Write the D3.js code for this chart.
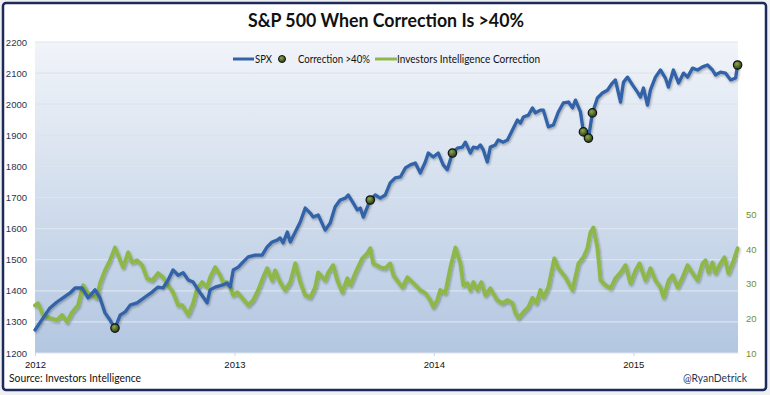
<!DOCTYPE html>
<html>
<head>
<meta charset="utf-8">
<script src="https://cdn.jsdelivr.net/npm/d3@7"></script>
<style>
  html, body { margin: 0; padding: 0; background: #eef0f3; }
  svg { display: block; font-family: Lato, "Open Sans", sans-serif; }
</style>
</head>
<body>
<svg width="770" height="395"></svg>
<script>
// SPX weekly closes, [decimal year, value]
var spx = [
  [2012.000,1274],[2012.040,1312],[2012.075,1345],[2012.110,1364],[2012.140,1377],[2012.176,1393],
  [2012.201,1409],[2012.236,1409],[2012.266,1377],[2012.301,1403],[2012.326,1377],[2012.351,1329],
  [2012.376,1306],[2012.401,1280],[2012.427,1322],[2012.452,1332],[2012.477,1354],[2012.512,1361],
  [2012.552,1380],[2012.587,1396],[2012.617,1412],[2012.642,1409],[2012.667,1434],[2012.692,1467],
  [2012.718,1450],[2012.743,1458],[2012.768,1435],[2012.793,1428],[2012.818,1403],[2012.843,1380],
  [2012.863,1361],[2012.878,1403],[2012.903,1412],[2012.938,1418],[2012.963,1425],[2012.979,1412],
  [2012.994,1467],[2013.019,1476],[2013.044,1493],[2013.069,1509],[2013.104,1515],[2013.139,1515],
  [2013.164,1541],[2013.189,1557],[2013.214,1563],[2013.229,1570],[2013.244,1554],[2013.265,1589],
  [2013.280,1557],[2013.305,1589],[2013.330,1621],[2013.355,1666],[2013.380,1650],[2013.395,1637],
  [2013.420,1644],[2013.455,1595],[2013.480,1618],[2013.505,1670],[2013.530,1692],[2013.556,1698],
  [2013.571,1708],[2013.596,1682],[2013.616,1660],[2013.631,1666],[2013.646,1637],[2013.681,1692],
  [2013.706,1708],[2013.731,1698],[2013.756,1708],[2013.781,1747],[2013.806,1763],[2013.832,1766],
  [2013.857,1795],[2013.882,1805],[2013.907,1811],[2013.932,1779],[2013.957,1814],[2013.972,1843],
  [2013.997,1830],[2014.022,1843],[2014.047,1805],[2014.067,1789],[2014.093,1843],[2014.118,1859],
  [2014.143,1862],[2014.158,1878],[2014.183,1843],[2014.198,1862],[2014.218,1859],[2014.233,1869],
  [2014.248,1853],[2014.268,1814],[2014.283,1862],[2014.308,1869],[2014.323,1885],[2014.348,1878],
  [2014.369,1885],[2014.394,1917],[2014.419,1949],[2014.434,1939],[2014.449,1959],[2014.474,1965],
  [2014.494,1988],[2014.509,1972],[2014.534,1981],[2014.549,1981],[2014.574,1927],[2014.599,1933],
  [2014.624,1975],[2014.649,2004],[2014.675,2007],[2014.695,1988],[2014.710,2013],[2014.735,1975],
  [2014.750,1911],[2014.775,1891],[2014.795,1972],[2014.820,2020],[2014.845,2036],[2014.870,2045],
  [2014.895,2068],[2014.910,2078],[2014.936,2007],[2014.951,2071],[2014.971,2087],[2014.996,2062],
  [2015.021,2039],[2015.036,2023],[2015.051,2052],[2015.071,1997],[2015.086,2046],[2015.111,2087],
  [2015.136,2110],[2015.161,2084],[2015.176,2055],[2015.201,2110],[2015.227,2068],[2015.252,2100],
  [2015.272,2087],[2015.297,2116],[2015.322,2110],[2015.347,2120],[2015.372,2126],[2015.397,2110],
  [2015.412,2094],[2015.437,2103],[2015.462,2100],[2015.488,2078],[2015.513,2084],[2015.523,2126]
];

// weeks where the II correction reading topped 40%
var correctionDots = [
  [2012.401,1280],[2013.681,1692],[2014.093,1843],[2014.750,1911],
  [2014.775,1891],[2014.795,1972],[2015.523,2126]
];

// Investors Intelligence correction %, [decimal year, value]
var iiCorrection = [
  [2012.000,23.8],[2012.015,24.4],[2012.040,21.0],[2012.075,20.1],[2012.110,19.5],[2012.135,21.0],
  [2012.161,19.0],[2012.186,21.8],[2012.216,23.8],[2012.241,29.6],[2012.266,27.3],[2012.291,26.7],
  [2012.311,25.9],[2012.326,30.2],[2012.351,33.9],[2012.376,36.8],[2012.401,40.5],[2012.417,38.2],
  [2012.442,34.8],[2012.467,39.1],[2012.487,36.2],[2012.512,36.8],[2012.537,35.4],[2012.562,31.6],
  [2012.587,31.0],[2012.617,33.1],[2012.642,31.9],[2012.667,29.6],[2012.692,27.6],[2012.718,23.8],
  [2012.738,23.8],[2012.768,21.0],[2012.793,24.4],[2012.813,28.7],[2012.838,30.5],[2012.863,29.0],
  [2012.878,31.9],[2012.903,34.8],[2012.928,32.5],[2012.943,30.5],[2012.963,30.5],[2012.979,29.0],
  [2012.994,26.7],[2013.014,27.6],[2013.039,25.9],[2013.069,23.8],[2013.094,25.3],[2013.119,28.2],
  [2013.144,31.9],[2013.164,34.5],[2013.189,31.0],[2013.204,33.9],[2013.229,30.5],[2013.254,28.2],
  [2013.280,30.5],[2013.305,35.9],[2013.330,30.5],[2013.355,26.7],[2013.380,26.1],[2013.405,29.0],
  [2013.420,33.3],[2013.455,31.0],[2013.470,33.3],[2013.495,35.4],[2013.516,31.0],[2013.541,27.6],
  [2013.566,31.6],[2013.581,29.6],[2013.606,33.1],[2013.641,37.4],[2013.666,38.8],[2013.681,40.3],
  [2013.696,35.9],[2013.731,34.8],[2013.756,34.5],[2013.781,35.9],[2013.797,32.5],[2013.822,30.5],
  [2013.842,29.0],[2013.867,31.9],[2013.897,30.2],[2013.932,28.2],[2013.957,27.3],[2013.982,25.3],
  [2013.997,23.3],[2014.017,25.3],[2014.032,28.2],[2014.057,27.3],[2014.083,34.8],[2014.108,40.5],
  [2014.133,35.9],[2014.148,29.6],[2014.168,30.2],[2014.183,28.2],[2014.198,30.5],[2014.218,28.2],
  [2014.238,30.5],[2014.258,26.7],[2014.283,28.7],[2014.318,25.3],[2014.343,24.4],[2014.369,25.3],
  [2014.394,24.4],[2014.409,21.5],[2014.424,20.1],[2014.449,21.8],[2014.474,23.3],[2014.494,25.9],
  [2014.514,24.4],[2014.534,28.2],[2014.549,26.1],[2014.574,29.0],[2014.604,37.4],[2014.624,34.5],
  [2014.660,31.9],[2014.695,28.2],[2014.725,35.9],[2014.750,37.7],[2014.770,40.3],[2014.785,44.9],
  [2014.800,46.3],[2014.820,40.5],[2014.836,31.0],[2014.861,29.6],[2014.886,28.7],[2014.910,31.6],
  [2014.936,33.3],[2014.961,35.4],[2014.986,30.2],[2015.011,33.9],[2015.031,35.9],[2015.061,31.0],
  [2015.086,34.5],[2015.111,31.0],[2015.136,29.0],[2015.152,26.1],[2015.177,31.0],[2015.197,32.5],
  [2015.222,29.0],[2015.247,31.9],[2015.272,35.4],[2015.297,33.1],[2015.322,31.0],[2015.347,35.9],
  [2015.362,36.8],[2015.377,33.3],[2015.397,36.2],[2015.412,33.1],[2015.437,35.9],[2015.457,37.7],
  [2015.477,33.1],[2015.503,36.8],[2015.523,40.3]
];

var yearTicks = [2012, 2013, 2014, 2015];
var spxTicks = [1200, 1300, 1400, 1500, 1600, 1700, 1800, 1900, 2000, 2100, 2200];
var corrTicks = [10, 20, 30, 40, 50];

var blue = "#3262a8", green = "#8db84a", navy = "#1c2b5a";

var svg = d3.select("svg");
var defs = svg.append("defs");

// plot area in pixels
var plot = {left: 35, right: 738, top: 42, bottom: 353};

var x = d3.scaleLinear().domain([2012, 2015.525]).range([plot.left, plot.right]);
var y = d3.scaleLinear().domain([1200, 2200]).range([plot.bottom, plot.top]);
var y2 = d3.scaleLinear().domain([10, 100]).range([plot.bottom, plot.top]);

//background gradient of the plot area
var grad = defs.append("linearGradient").attr("id", "bg").attr("x1", 0).attr("y1", 0).attr("x2", 0).attr("y2", 1);
grad.append("stop").attr("offset", "0%").attr("stop-color", "#f1f4f9");
grad.append("stop").attr("offset", "100%").attr("stop-color", "#b3c7e1");

var dotGrad = defs.append("radialGradient").attr("id", "dot").attr("cx", "40%").attr("cy", "35%").attr("r", "65%");
dotGrad.append("stop").attr("offset", "0%").attr("stop-color", "#8aab4c");
dotGrad.append("stop").attr("offset", "100%").attr("stop-color", "#2c3a16");

var shadow = defs.append("filter").attr("id", "shadow").attr("x", "-5%").attr("y", "-5%").attr("width", "110%").attr("height", "120%");
shadow.append("feDropShadow").attr("dx", 1).attr("dy", 1.5).attr("stdDeviation", 1)
  .attr("flood-color", "#000").attr("flood-opacity", 0.3);

//outer frame
svg.append("rect")
  .attr("x", 3).attr("y", 3).attr("width", 763).attr("height", 387).attr("rx", 3)
  .attr("fill", "#fff").attr("stroke", navy).attr("stroke-width", 2.5);

svg.append("rect")
  .attr("x", plot.left).attr("y", plot.top)
  .attr("width", plot.right - plot.left).attr("height", plot.bottom - plot.top)
  .attr("fill", "url(#bg)");

//horizontal gridlines
svg.append("g").selectAll("line")
  .data(spxTicks)
  .enter().append("line")
  .attr("x1", plot.left).attr("x2", plot.right)
  .attr("y1", function(d){ return y(d); }).attr("y2", function(d){ return y(d); })
  .attr("stroke", "#dde4ee").attr("stroke-width", 1.2);

//left axis
var leftAxis = svg.append("g")
  .attr("transform", "translate(" + (plot.left - 8) + ",0)")
  .call(d3.axisLeft(y).tickValues(spxTicks).tickSize(0).tickPadding(0).tickFormat(d3.format("d")));
leftAxis.select(".domain").remove();
leftAxis.selectAll("text").attr("fill", "#1f3556").attr("font-size", 9.5);

//right axis
var rightAxis = svg.append("g")
  .attr("transform", "translate(" + (plot.right + 8) + ",0)")
  .call(d3.axisRight(y2).tickValues(corrTicks).tickSize(0).tickPadding(0));
rightAxis.select(".domain").remove();
rightAxis.selectAll("text").attr("fill", "#6f8f2f").attr("font-size", 9.5);

//bottom axis
var bottomAxis = svg.append("g")
  .attr("transform", "translate(0," + plot.bottom + ")")
  .call(d3.axisBottom(x).tickValues(yearTicks).tickSize(3).tickPadding(5).tickFormat(d3.format("d")));
bottomAxis.select(".domain").remove();
bottomAxis.selectAll("line").attr("stroke", "#d0d6de");
bottomAxis.selectAll("text").attr("fill", "#111").attr("font-size", 9.5);

//lines
var spxLine = d3.line()
  .x(function(d){ return x(d[0]); })
  .y(function(d){ return y(d[1]); });

var corrLine = d3.line()
  .x(function(d){ return x(d[0]); })
  .y(function(d){ return y2(d[1]); });

svg.append("path")
  .datum(iiCorrection)
  .attr("d", corrLine)
  .attr("fill", "none").attr("stroke", green).attr("stroke-width", 3.9)
  .attr("stroke-linejoin", "round").attr("stroke-linecap", "round")
  .attr("filter", "url(#shadow)");

svg.append("path")
  .datum(spx)
  .attr("d", spxLine)
  .attr("fill", "none").attr("stroke", blue).attr("stroke-width", 3.3)
  .attr("stroke-linejoin", "round").attr("stroke-linecap", "round")
  .attr("filter", "url(#shadow)");

svg.append("g").selectAll("circle")
  .data(correctionDots)
  .enter().append("circle")
  .attr("cx", function(d){ return x(d[0]); })
  .attr("cy", function(d){ return y(d[1]); })
  .attr("r", 4.2)
  .attr("fill", "url(#dot)").attr("stroke", "#111").attr("stroke-width", 1.2);

//title
svg.append("text")
  .attr("x", 386).attr("y", 27)
  .attr("text-anchor", "middle")
  .attr("font-size", 19).attr("font-weight", "bold").attr("fill", "#111")
  .attr("textLength", 276).attr("lengthAdjust", "spacingAndGlyphs")
  .text("S&P 500 When Correction Is >40%");

//legend
var legend = svg.append("g").attr("font-size", 11).attr("fill", "#111");
legend.append("line").attr("x1", 233).attr("x2", 254).attr("y1", 59).attr("y2", 59)
  .attr("stroke", blue).attr("stroke-width", 3);
legend.append("text").attr("x", 255).attr("y", 63).attr("textLength", 17)
  .attr("lengthAdjust", "spacingAndGlyphs").text("SPX");
legend.append("circle").attr("cx", 282).attr("cy", 59).attr("r", 3.5)
  .attr("fill", "url(#dot)").attr("stroke", "#111").attr("stroke-width", 1);
legend.append("text").attr("x", 298).attr("y", 63).attr("textLength", 72)
  .attr("lengthAdjust", "spacingAndGlyphs").text("Correction >40%");
legend.append("line").attr("x1", 375).attr("x2", 397).attr("y1", 59).attr("y2", 59)
  .attr("stroke", green).attr("stroke-width", 3);
legend.append("text").attr("x", 397).attr("y", 63).attr("textLength", 143)
  .attr("lengthAdjust", "spacingAndGlyphs").text("Investors Intelligence Correction");

//footer
svg.append("text")
  .attr("x", 9).attr("y", 382)
  .attr("font-size", 11).attr("fill", "#111")
  .attr("textLength", 132).attr("lengthAdjust", "spacingAndGlyphs")
  .text("Source:  Investors Intelligence");

svg.append("text")
  .attr("x", 747).attr("y", 382)
  .attr("text-anchor", "end")
  .attr("font-size", 11).attr("fill", "#1f3556")
  .attr("textLength", 64).attr("lengthAdjust", "spacingAndGlyphs")
  .text("@RyanDetrick");
</script>
</body>
</html>
